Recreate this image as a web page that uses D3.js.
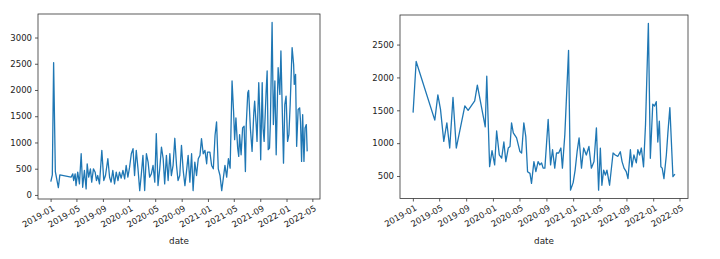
<html>
<head>
<style>
  body { margin: 0; background: #fff; }
  text { font-family: "DejaVu Sans", sans-serif; fill: #222; }
</style>
</head>
<body>
<svg id="svg" width="720" height="259"></svg>
<script src="https://d3js.org/d3.v7.min.js"></script>
<script>

// left panel
var leftDates = [
  "2019-01-02","2019-01-09","2019-01-15","2019-01-23","2019-02-06","2019-02-13","2019-04-06","2019-04-14",
  "2019-04-18","2019-04-25","2019-04-29","2019-05-07","2019-05-15","2019-05-23","2019-05-30","2019-06-07",
  "2019-06-15","2019-06-20","2019-06-27","2019-07-05","2019-07-11","2019-07-19","2019-07-27","2019-08-02",
  "2019-08-08","2019-08-16","2019-08-27","2019-09-05","2019-09-13","2019-09-24","2019-10-02","2019-10-09",
  "2019-10-17","2019-10-25","2019-11-02","2019-11-10","2019-11-17","2019-11-25","2019-12-03","2019-12-11",
  "2019-12-18","2019-12-26","2020-01-03","2020-01-11","2020-01-19","2020-01-26","2020-02-03","2020-02-11",
  "2020-02-19","2020-02-26","2020-03-05","2020-03-13","2020-03-21","2020-03-29","2020-04-05","2020-04-13",
  "2020-04-21","2020-04-29","2020-05-06","2020-05-14","2020-05-22","2020-05-30","2020-06-07","2020-06-14",
  "2020-06-22","2020-06-30","2020-07-08","2020-07-15","2020-07-23","2020-07-31","2020-08-08","2020-08-15",
  "2020-08-23","2020-08-31","2020-09-08","2020-09-16","2020-09-23","2020-10-01","2020-10-09","2020-10-17",
  "2020-10-24","2020-11-01","2020-11-09","2020-11-17","2020-11-25","2020-12-02","2020-12-10","2020-12-18",
  "2020-12-26","2020-12-30","2021-01-10","2021-01-18","2021-01-26","2021-02-03","2021-02-10","2021-02-18",
  "2021-02-26","2021-03-06","2021-03-13","2021-03-21","2021-03-29","2021-04-06","2021-04-14","2021-04-23",
  "2021-04-30","2021-05-05","2021-05-11","2021-05-19","2021-05-24","2021-05-28","2021-06-04","2021-06-11",
  "2021-06-18","2021-06-24","2021-06-28","2021-07-05","2021-07-09","2021-07-17","2021-07-25","2021-08-02",
  "2021-08-06","2021-08-13","2021-08-17","2021-08-25","2021-08-30","2021-09-03","2021-09-10","2021-09-14",
  "2021-09-19","2021-09-28","2021-10-03","2021-10-08","2021-10-14","2021-10-18","2021-10-26","2021-11-01",
  "2021-11-08","2021-11-14","2021-11-18","2021-11-23","2021-12-01","2021-12-06","2021-12-12","2021-12-18",
  "2021-12-24","2021-12-30","2022-01-06","2022-01-12","2022-01-18","2022-01-27","2022-02-03","2022-02-06",
  "2022-02-12","2022-02-17","2022-02-24","2022-03-03","2022-03-07","2022-03-12","2022-03-17","2022-03-23",
  "2022-03-28","2022-04-03","2022-04-07"
];
var leftValues = [
  255,383,2523,446,140,383,338,402,
  275,402,179,434,211,785,147,466,
  115,594,338,498,243,498,434,275,
  370,211,849,275,370,690,338,243,
  466,211,434,275,434,319,466,306,
  562,338,530,785,881,370,849,498,
  83,370,754,83,785,626,338,402,
  562,243,1169,179,498,913,690,211,
  754,275,785,370,562,1080,562,275,
  370,945,466,179,434,754,243,785,
  83,626,370,690,754,1073,785,849,
  594,817,817,562,498,1137,1392,498,
  370,83,306,562,338,690,510,2171,
  1596,1053,1468,894,734,1149,766,1277,
  1309,447,1341,1947,1992,1277,830,1564,
  1788,1341,1021,2139,1532,670,2139,1277,
  1021,1947,2362,862,894,1372,3288,1341,
  2171,766,1532,2426,1915,2745,1660,606,
  1724,1883,1021,1149,1724,2809,2490,2107,
  2299,926,1628,1660,1404,638,1532,638,
  1277,1341,830
];
var leftYTicks = [0, 500, 1000, 1500, 2000, 2500, 3000];

// right panel
var rightDates = [
  "2019-01-02","2019-01-16","2019-04-11","2019-04-25","2019-05-07","2019-05-22","2019-06-05","2019-06-18",
  "2019-07-03","2019-07-18","2019-08-26","2019-09-10","2019-10-10","2019-10-22","2019-11-27","2019-12-04",
  "2019-12-17","2019-12-28","2020-01-09","2020-01-18","2020-01-30","2020-02-10","2020-02-20","2020-02-29",
  "2020-03-11","2020-03-19","2020-03-26","2020-04-03","2020-04-18","2020-05-03","2020-05-11","2020-05-21",
  "2020-05-30","2020-06-07","2020-06-18","2020-06-25","2020-07-06","2020-07-15","2020-07-25","2020-08-02",
  "2020-08-10","2020-08-17","2020-08-25","2020-09-09","2020-09-20","2020-09-29","2020-10-09","2020-10-17",
  "2020-10-27","2020-11-06","2020-11-13","2020-11-24","2020-12-11","2020-12-20","2021-01-01","2021-01-10",
  "2021-01-19","2021-01-28","2021-02-08","2021-02-18","2021-03-02","2021-03-14","2021-03-25","2021-04-06",
  "2021-04-17","2021-04-27","2021-05-05","2021-05-12","2021-05-20","2021-05-28","2021-06-04","2021-06-16",
  "2021-07-02","2021-07-12","2021-07-24","2021-08-04","2021-08-12","2021-08-21","2021-08-31","2021-09-08",
  "2021-09-19","2021-09-26","2021-10-05","2021-10-16","2021-10-23","2021-10-31","2021-11-08","2021-11-18",
  "2021-11-27","2021-12-10","2021-12-19","2021-12-30","2022-01-07","2022-01-15","2022-01-22","2022-01-29",
  "2022-02-05","2022-02-11","2022-02-19","2022-03-02","2022-03-09","2022-03-18","2022-04-01","2022-04-10"
];
var rightValues = [
  1465,2243,1351,1735,1515,1028,1310,926,
  1695,926,1566,1500,1643,1884,1249,2018,
  643,885,669,1185,823,772,1018,720,
  926,950,1310,1157,1080,874,850,1310,
  1100,566,540,388,720,566,720,670,
  700,620,620,1361,670,900,620,850,
  850,926,620,1130,2412,285,400,590,
  870,1080,620,926,820,950,620,720,
  1233,285,926,360,590,515,590,360,
  850,820,800,870,720,620,566,460,
  900,640,820,700,900,820,926,640,
  1285,2823,770,1592,1566,1632,1018,1336,
  640,620,460,820,1157,1541,490,530
];
var rightYTicks = [500, 1000, 1500, 2000, 2500];

var parse = d3.timeParse("%Y-%m-%d");
var fmt = d3.timeFormat("%Y-%m");

function pad(ext, f) {
  var d = ext[1] - ext[0];
  return [+ext[0] - d*f, +ext[1] + d*f];
}

function panel(x0, x1, y0, y1, dates, values, yTicks) {
  var svg = d3.select("#svg");
  var pts = dates.map((d,i) => ({d: parse(d), v: values[i]}));

  var x = d3.scaleTime()
    .domain(pad(d3.extent(pts, p => p.d), 0.05).map(t => new Date(t)))
    .range([x0, x1]);
  var y = d3.scaleLinear()
    .domain(pad(d3.extent(pts, p => p.v), 0.05))
    .range([y1, y0]);

  var xTicks = d3.timeMonth.every(4).range(new Date(2019,0,1), new Date(2022,5,1));

  var g = svg.append("g");

  var xa = g.append("g")
    .attr("transform", "translate(0,"+y1+")")
    .call(d3.axisBottom(x).tickValues(xTicks).tickFormat(fmt).tickSize(3).tickPadding(3));
  xa.selectAll("text")
    .attr("x", 1).attr("y", 0)
    .attr("text-anchor", "end")
    .attr("dy", "0.75em")
    .attr("transform", "translate(0,6) rotate(-30)")
    .style("font-size", "8.5px");

  var ya = g.append("g")
    .attr("transform", "translate("+x0+",0)")
    .call(d3.axisLeft(y).tickValues(yTicks).tickFormat(d3.format("d")).tickSize(3).tickPadding(3));
  ya.selectAll("text").style("font-size", "8.5px");

  g.selectAll(".domain").remove();
  g.selectAll(".tick line").attr("stroke", "#333").attr("stroke-width", 0.8);

  g.append("path")
    .datum(pts)
    .attr("fill", "none")
    .attr("stroke", "#1f77b4")
    .attr("stroke-width", 1.3)
    .attr("stroke-linejoin", "round")
    .attr("d", d3.line().x(p => x(p.d)).y(p => y(p.v)));

  g.append("rect")
    .attr("x", x0).attr("y", y0)
    .attr("width", x1-x0).attr("height", y1-y0)
    .attr("fill", "none")
    .attr("stroke", "#333")
    .attr("stroke-width", 0.8);

  g.append("text")
    .attr("x", (x0+x1)/2).attr("y", y1+45)
    .attr("text-anchor", "middle")
    .style("font-size", "8.8px")
    .text("date");
}

panel(38, 320, 14, 199, leftDates, leftValues, leftYTicks);
panel(400, 688, 15, 198.5, rightDates, rightValues, rightYTicks);

</script>
</body>
</html>
